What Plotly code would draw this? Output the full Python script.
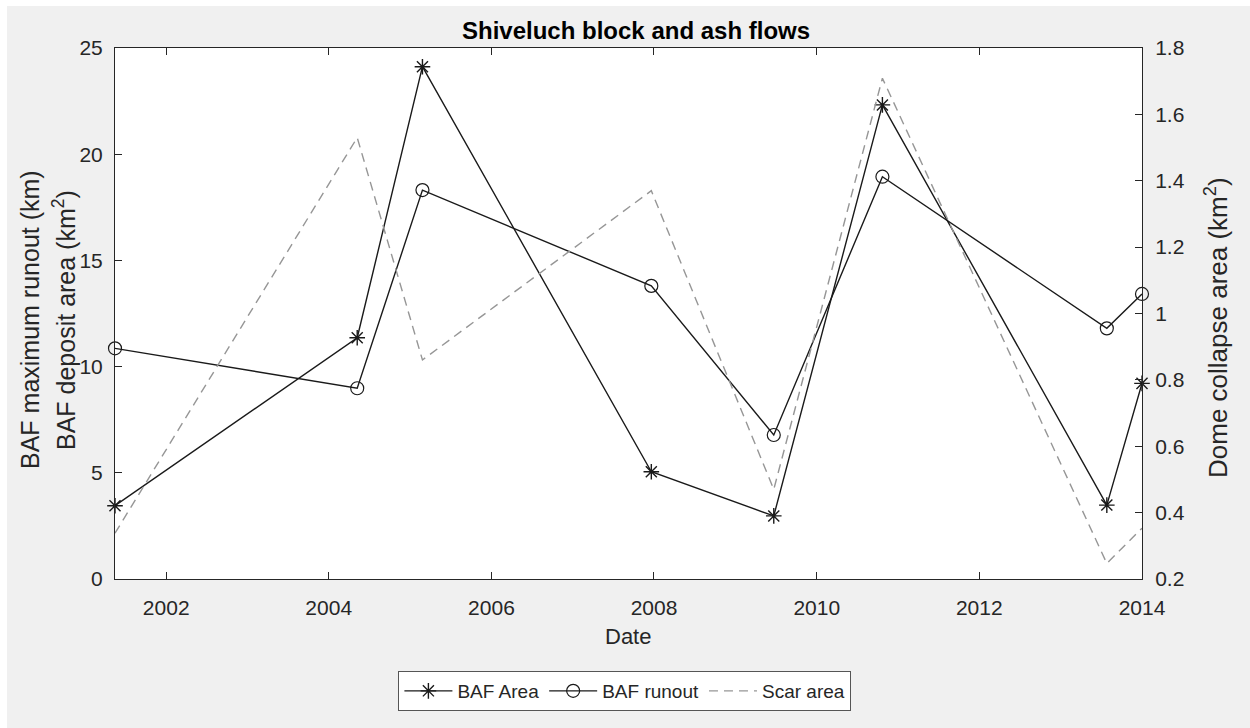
import plotly.graph_objects as go

# ---- data ----
dates = ["2001-05-16", "2004-05-08", "2005-02-25", "2007-12-20",
         "2009-06-22", "2010-10-23", "2013-07-27", "2014-01-01"]
baf_area = [3.45, 11.36, 24.12, 5.05, 2.97, 22.32, 3.48, 9.21]
baf_runout = [10.86, 8.98, 18.31, 13.80, 6.78, 18.94, 11.80, 13.42]
scar_area = [0.338, 1.53, 0.86, 1.37, 0.47, 1.709, 0.247, 0.353]

left_ticks = [0, 5, 10, 15, 20, 25]
right_ticks = [0.2, 0.4, 0.6, 0.8, 1.0, 1.2, 1.4, 1.6, 1.8]
right_ticktext = ["0.2", "0.4", "0.6", "0.8", "1", "1.2", "1.4", "1.6", "1.8"]

title_text = "<b>Shiveluch block and ash flows</b>"
left_label_1 = "BAF maximum runout (km)"
left_label_2 = "BAF deposit area (km<sup>2</sup>)"
right_label = "Dome collapse area (km<sup>2</sup>)"
x_label = "Date"

# ---- layout geometry (pixels) ----
W, H = 1250, 728
L, R, T, B = 115, 1142, 48, 579
pw, ph = R - L, B - T

def px_x(x):
    return (x - L) / pw

def px_y(y):
    return (B - y) / ph

FONT = "Liberation Sans, Arial, Helvetica, sans-serif"
AX = "#262626"

fig = go.Figure()
fig.add_trace(go.Scatter(
    x=dates, y=baf_area, name="BAF Area", mode="lines+markers",
    line=dict(color="#1a1a1a", width=1.4),
    marker=dict(symbol="asterisk-open", size=13, color="#1a1a1a",
                line=dict(color="#1a1a1a", width=1.4)),
    cliponaxis=False, yaxis="y"))
fig.add_trace(go.Scatter(
    x=dates, y=baf_runout, name="BAF runout", mode="lines+markers",
    line=dict(color="#1a1a1a", width=1.4),
    marker=dict(symbol="circle-open", size=13, color="#1a1a1a",
                line=dict(color="#1a1a1a", width=1.2)),
    cliponaxis=False, yaxis="y"))
fig.add_trace(go.Scatter(
    x=dates, y=scar_area, name="Scar area", mode="lines",
    line=dict(color="#969696", width=1.4, dash="9px,6px"),
    cliponaxis=False, yaxis="y2"))

axis_common = dict(showgrid=False, zeroline=False, showline=True,
                   linecolor=AX, linewidth=1, ticks="inside", ticklen=7,
                   tickwidth=1, tickcolor=AX,
                   tickfont=dict(family=FONT, size=21, color=AX))

fig.update_layout(
    width=W, height=H,
    margin=dict(l=L, r=W - R, t=T, b=H - B, pad=0),
    paper_bgcolor="white", plot_bgcolor="white",
    font=dict(family=FONT, color=AX),
    showlegend=True,
    xaxis=dict(type="date", range=[dates[0], dates[-1]],
               tick0="2002-01-01", dtick="M24", tickformat="%Y",
               mirror="ticks", ticklabelstandoff=10, **axis_common),
    yaxis=dict(range=[0, 25], tickvals=left_ticks, ticklabelstandoff=7,
               **axis_common),
    yaxis2=dict(range=[0.2, 1.8], tickvals=right_ticks, ticktext=right_ticktext,
                overlaying="y", side="right", ticklabelstandoff=8,
                **axis_common),
    legend=dict(orientation="h", x=0.4965, xanchor="center",
                y=px_y(671), yanchor="top", bgcolor="white",
                bordercolor="#555555", borderwidth=1,
                font=dict(family=FONT, size=19, color=AX),
                itemwidth=48, tracegroupgap=0),
    shapes=[
        dict(type="rect", xref="paper", yref="paper", layer="below",
             x0=px_x(7), x1=px_x(W + 5), y0=px_y(H + 5), y1=px_y(6),
             fillcolor="#f0f0f0", line=dict(width=0)),
        dict(type="rect", xref="paper", yref="paper", layer="below",
             x0=0, x1=1, y0=0, y1=1, fillcolor="white", line=dict(width=0)),
    ],
    annotations=[
        dict(text=title_text, xref="paper", yref="paper", x=px_x(636), y=px_y(30),
             xanchor="center", yanchor="middle", showarrow=False,
             font=dict(family=FONT, size=24, color="black")),
        dict(text=left_label_1, xref="paper", yref="paper", x=px_x(30), y=px_y(320),
             xanchor="center", yanchor="middle", textangle=-90, showarrow=False,
             font=dict(family=FONT, size=25, color=AX)),
        dict(text=left_label_2, xref="paper", yref="paper", x=px_x(64), y=px_y(320),
             xanchor="center", yanchor="middle", textangle=-90, showarrow=False,
             font=dict(family=FONT, size=25, color=AX)),
        dict(text=right_label, xref="paper", yref="paper", x=px_x(1216), y=px_y(328),
             xanchor="center", yanchor="middle", textangle=-90, showarrow=False,
             font=dict(family=FONT, size=26, color=AX)),
        dict(text=x_label, xref="paper", yref="paper", x=px_x(628), y=px_y(636),
             xanchor="center", yanchor="middle", showarrow=False,
             font=dict(family=FONT, size=22, color=AX)),
    ],
)

fig.write_html("out.html")
